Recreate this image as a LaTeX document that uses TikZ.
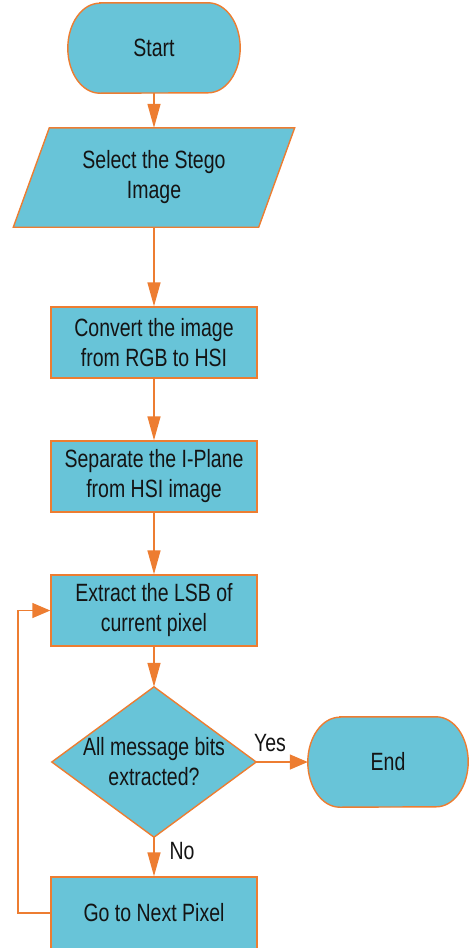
\documentclass[tikz,border=0pt]{standalone}
\usepackage{fontspec}
\setmainfont{Liberation Sans}[FakeStretch=0.78]
\usetikzlibrary{arrows.meta,calc}
\definecolor{boxfill}{RGB}{104,196,216}
\definecolor{edgec}{RGB}{237,125,49}
\definecolor{textc}{RGB}{20,20,20}
\pgfdeclarelayer{bg}\pgfsetlayers{bg,main}
\begin{document}
\begin{tikzpicture}[x=1pt,y=1pt,
  font=\fontsize{25}{30}\selectfont,
  base/.style={draw=edgec, line width=1.4pt, fill=boxfill},
  procbox/.style={base, text=textc, align=center, inner sep=0pt, minimum width=206pt, minimum height=71pt},
  ghost/.style={align=center, inner sep=0pt, text=textc},
  conn/.style={draw=edgec, line width=1.4pt},
  va/.style={conn, -{Triangle[length=24pt,width=13pt]}},
  ha/.style={conn, -{Triangle[length=18pt,width=15pt]}},
  lbl/.style={text=textc, inner sep=0pt}
]
\useasboundingbox (0,0) rectangle (470,-948);

\node[ghost, minimum width=172pt, minimum height=90pt] (start) at (154,-48) {Start};
\begin{pgfonlayer}{bg}
\draw[base] ($(start.north west)+(32,0)$) -- ($(start.north east)+(-32,0)$)
  arc[start angle=90,end angle=-90,x radius=32,y radius=45]
  -- ($(start.south west)+(32,0)$)
  arc[start angle=270,end angle=90,x radius=32,y radius=45] -- cycle;
\end{pgfonlayer}

\node[ghost, minimum width=281pt, minimum height=99pt] (select) at (154,-177.5) {Select the Stego\\Image};
\begin{pgfonlayer}{bg}
\draw[base] ($(select.north west)+(36,0)$) -- (select.north east) -- ($(select.south east)+(-36,0)$) -- (select.south west) -- cycle;
\end{pgfonlayer}

\node[procbox] (convert) at (154,-342.5) {Convert the image\\from RGB to HSI};
\node[procbox] (separate) at (154,-476.5) {Separate the I-Plane\\from HSI image};
\node[procbox] (extract) at (154,-610.5) {Extract the LSB of\\current pixel};

\node[ghost, minimum width=204pt, minimum height=150pt] (decide) at (154,-762) {All message bits\\extracted?};
\begin{pgfonlayer}{bg}
\draw[base] (decide.north) -- (decide.east) -- (decide.south) -- (decide.west) -- cycle;
\end{pgfonlayer}

\node[ghost, minimum width=160pt, minimum height=90pt] (finish) at (388,-762) {End};
\begin{pgfonlayer}{bg}
\draw[base] ($(finish.north west)+(32,0)$) -- ($(finish.north east)+(-32,0)$)
  arc[start angle=90,end angle=-90,x radius=32,y radius=45]
  -- ($(finish.south west)+(32,0)$)
  arc[start angle=270,end angle=90,x radius=32,y radius=45] -- cycle;
\end{pgfonlayer}

\node[procbox, minimum height=72pt] (next) at (154,-913) {Go to Next Pixel};

\coordinate (loopx) at (18,-913);

\draw[va] (start) -- (select);
\draw[va] (select) -- (convert);
\draw[va] (convert) -- (separate);
\draw[va] (separate) -- (extract);
\draw[va] (extract) -- (decide.north);
\draw[ha] (decide.east) -- (finish.west);
\draw[va] (decide.south) -- (next);
\draw[ha] (next.west) -- (loopx) |- (extract.west);

\node[lbl] (yes) at (270,-743) {Yes};
\node[lbl] (no) at (182,-851) {No};
\end{tikzpicture}
\end{document}
